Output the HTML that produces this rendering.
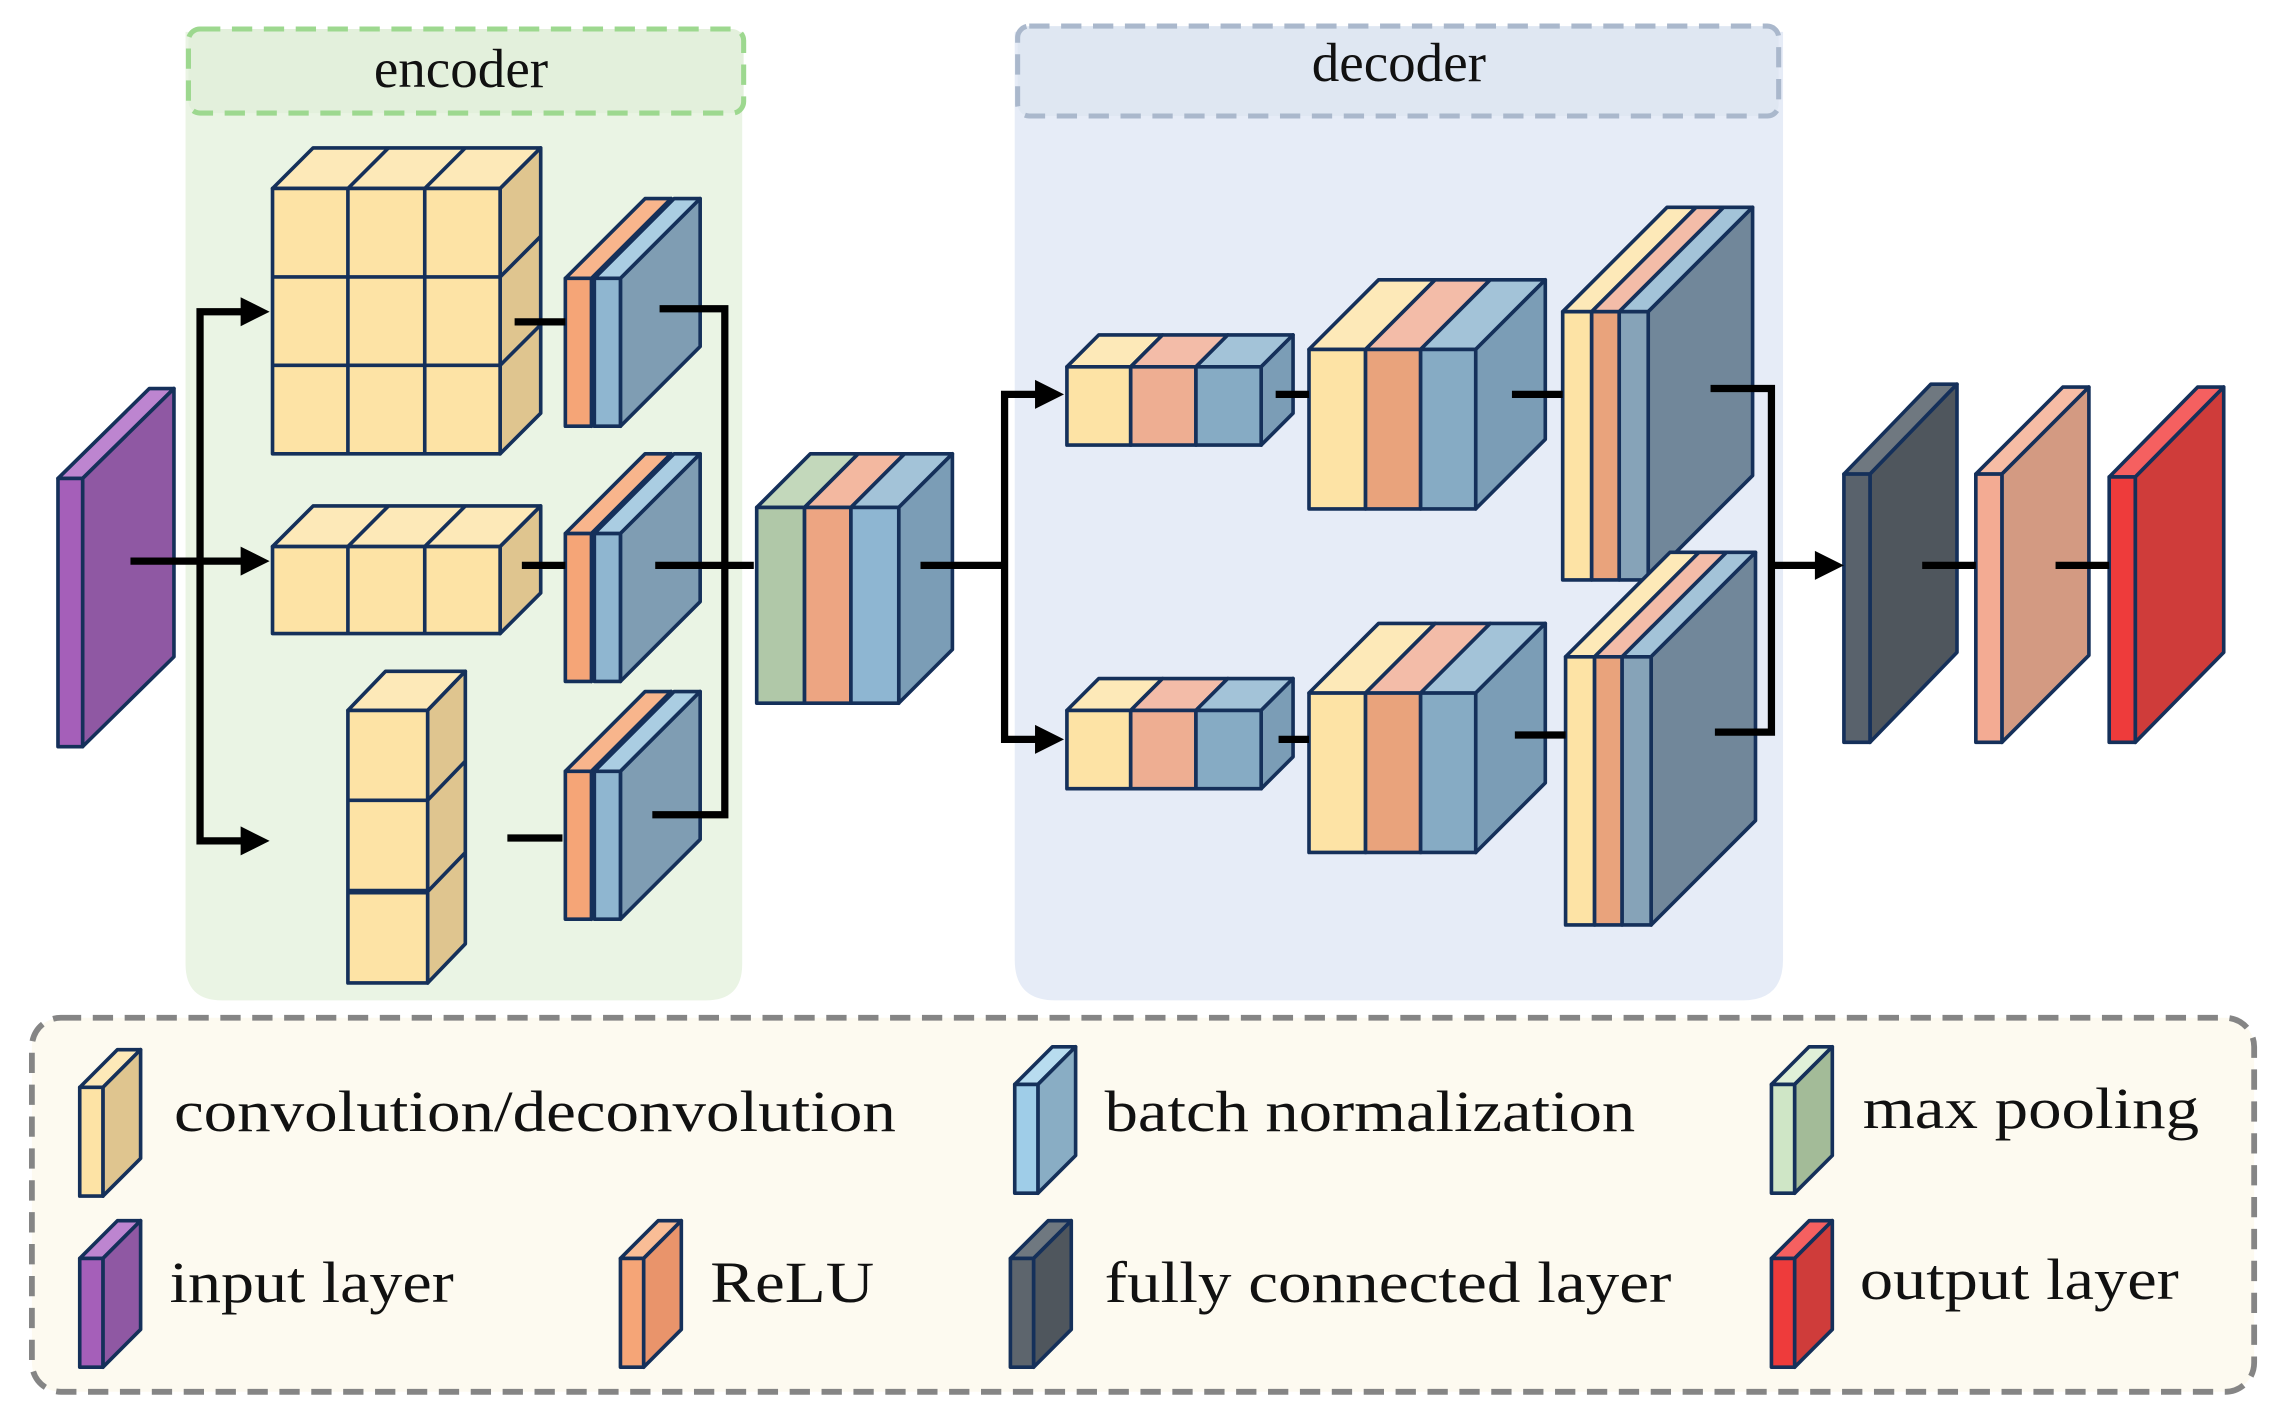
<!DOCTYPE html>
<html><head><meta charset="utf-8"><style>
html,body{margin:0;padding:0;background:#fff;}
svg{display:block;}
text{font-family:"Liberation Serif",serif;fill:#111;}
</style></head><body>
<svg width="2273" height="1415" viewBox="0 0 1568 976" preserveAspectRatio="none" xmlns="http://www.w3.org/2000/svg">
<g stroke="#15305a" stroke-width="2.5" stroke-linejoin="round">
<!-- region backgrounds -->
<path d="M128,22 H512 V665 Q512,690 487,690 H153 Q128,690 128,665 Z" fill="#eaf4e4" stroke="none"/>
<rect x="130" y="20" width="383" height="58" rx="8" fill="#e3f0dc" stroke="#9dd88f" stroke-width="3.5" stroke-dasharray="14 8"/>
<path d="M700,22 H1230 V662 Q1230,690 1202,690 H728 Q700,690 700,662 Z" fill="#e6ecf7" stroke="none"/>
<rect x="702" y="18" width="525" height="62" rx="8" fill="#dfe7f2" stroke="#aab8cc" stroke-width="3.5" stroke-dasharray="14 8"/>
<rect x="22" y="702" width="1533" height="258" rx="20" fill="#fdfaf0" stroke="#858585" stroke-width="4" stroke-dasharray="14 8"/>

<!-- input -->
<polygon points="40,330 103,268 120,268 57,330" fill="#bd85d0"/>
<polygon points="57,330 120,268 120,453 57,515" fill="#8f58a3"/>
<rect x="40" y="330" width="17" height="185" fill="#a55fb9"/>

<!-- conv grid 3x3 -->
<polygon points="188,130 216,102 373,102 345,130" fill="#fde9b8"/>
<line x1="240" y1="130" x2="268" y2="102"/><line x1="293" y1="130" x2="321" y2="102"/>
<polygon points="345,130 373,102 373,285 345,313" fill="#dfc58f"/>
<line x1="345" y1="191" x2="373" y2="163"/><line x1="345" y1="252" x2="373" y2="224"/>
<rect x="188" y="130" width="157" height="183" fill="#fde3a5"/>
<line x1="240" y1="130" x2="240" y2="313"/><line x1="293" y1="130" x2="293" y2="313"/>
<line x1="188" y1="191" x2="345" y2="191"/><line x1="188" y1="252" x2="345" y2="252"/>
<!-- conv row -->
<polygon points="188,377 216,349 373,349 345,377" fill="#fde9b8"/>
<line x1="240" y1="377" x2="268" y2="349"/><line x1="293" y1="377" x2="321" y2="349"/>
<polygon points="345,377 373,349 373,409 345,437" fill="#dfc58f"/>
<rect x="188" y="377" width="157" height="60" fill="#fde3a5"/>
<line x1="240" y1="377" x2="240" y2="437"/><line x1="293" y1="377" x2="293" y2="437"/>
<!-- conv column -->
<polygon points="240,490 266,463 321,463 295,490" fill="#fde9b8"/>
<polygon points="295,490 321,463 321,651 295,678" fill="#dfc58f"/>
<line x1="295" y1="552" x2="321" y2="525"/><line x1="295" y1="615" x2="321" y2="588"/>
<rect x="240" y="490" width="55" height="188" fill="#fde3a5"/>
<line x1="240" y1="552" x2="295" y2="552"/><line x1="240" y1="615" x2="295" y2="615" stroke-width="4"/>

<!-- encoder slabs -->
<g id="slab">
<polygon points="390,192 445,137 463,137 408,192" fill="#f8b58c"/>
<polygon points="408,192 463,137 463,239 408,294" fill="#e09a72"/>
<rect x="390" y="192" width="18" height="102" fill="#f5a577"/>
<polygon points="410,192 465,137 483,137 428,192" fill="#aacde2"/>
<polygon points="428,192 483,137 483,239 428,294" fill="#7f9db3"/>
<rect x="410" y="192" width="18" height="102" fill="#8fb6d0"/>
</g>
<g transform="translate(0,176)">
<polygon points="390,192 445,137 463,137 408,192" fill="#f8b58c"/>
<polygon points="408,192 463,137 463,239 408,294" fill="#e09a72"/>
<rect x="390" y="192" width="18" height="102" fill="#f5a577"/>
<polygon points="410,192 465,137 483,137 428,192" fill="#aacde2"/>
<polygon points="428,192 483,137 483,239 428,294" fill="#7f9db3"/>
<rect x="410" y="192" width="18" height="102" fill="#8fb6d0"/>
</g>
<g transform="translate(0,340)">
<polygon points="390,192 445,137 463,137 408,192" fill="#f8b58c"/>
<polygon points="408,192 463,137 463,239 408,294" fill="#e09a72"/>
<rect x="390" y="192" width="18" height="102" fill="#f5a577"/>
<polygon points="410,192 465,137 483,137 428,192" fill="#aacde2"/>
<polygon points="428,192 483,137 483,239 428,294" fill="#7f9db3"/>
<rect x="410" y="192" width="18" height="102" fill="#8fb6d0"/>
</g>

<!-- pool block -->
<polygon points="522,350 559,313 592,313 555,350" fill="#c3d8bb"/>
<polygon points="555,350 592,313 624,313 587,350" fill="#f3b8a0"/>
<polygon points="587,350 624,313 657,313 620,350" fill="#a3c3d8"/>
<polygon points="620,350 657,313 657,448 620,485" fill="#7b9db6"/>
<rect x="522" y="350" width="33" height="135" fill="#b0c8a8"/>
<rect x="555" y="350" width="32" height="135" fill="#eda582"/>
<rect x="587" y="350" width="33" height="135" fill="#8eb6d2"/>

<!-- decoder small -->
<g>
<polygon points="736,253 758,231 802,231 780,253" fill="#fde9b8"/>
<polygon points="780,253 802,231 847,231 825,253" fill="#f3bca8"/>
<polygon points="825,253 847,231 892,231 870,253" fill="#a3c3d8"/>
<polygon points="870,253 892,231 892,285 870,307" fill="#7b9db6"/>
<rect x="736" y="253" width="44" height="54" fill="#fde3a5"/>
<rect x="780" y="253" width="45" height="54" fill="#eeae92"/>
<rect x="825" y="253" width="45" height="54" fill="#86abc4"/>
</g>
<g transform="translate(0,237)">
<polygon points="736,253 758,231 802,231 780,253" fill="#fde9b8"/>
<polygon points="780,253 802,231 847,231 825,253" fill="#f3bca8"/>
<polygon points="825,253 847,231 892,231 870,253" fill="#a3c3d8"/>
<polygon points="870,253 892,231 892,285 870,307" fill="#7b9db6"/>
<rect x="736" y="253" width="44" height="54" fill="#fde3a5"/>
<rect x="780" y="253" width="45" height="54" fill="#eeae92"/>
<rect x="825" y="253" width="45" height="54" fill="#86abc4"/>
</g>
<!-- decoder medium -->
<g>
<polygon points="903,241 951,193 990,193 942,241" fill="#fde9b8"/>
<polygon points="942,241 990,193 1028,193 980,241" fill="#f3bca8"/>
<polygon points="980,241 1028,193 1066,193 1018,241" fill="#a3c3d8"/>
<polygon points="1018,241 1066,193 1066,303 1018,351" fill="#7b9db6"/>
<rect x="903" y="241" width="39" height="110" fill="#fde3a5"/>
<rect x="942" y="241" width="38" height="110" fill="#e9a37c"/>
<rect x="980" y="241" width="38" height="110" fill="#86abc4"/>
</g>
<g transform="translate(0,237)">
<polygon points="903,241 951,193 990,193 942,241" fill="#fde9b8"/>
<polygon points="942,241 990,193 1028,193 980,241" fill="#f3bca8"/>
<polygon points="980,241 1028,193 1066,193 1018,241" fill="#a3c3d8"/>
<polygon points="1018,241 1066,193 1066,303 1018,351" fill="#7b9db6"/>
<rect x="903" y="241" width="39" height="110" fill="#fde3a5"/>
<rect x="942" y="241" width="38" height="110" fill="#e9a37c"/>
<rect x="980" y="241" width="38" height="110" fill="#86abc4"/>
</g>
<!-- decoder large -->
<g>
<polygon points="1078,215 1150,143 1170,143 1098,215" fill="#fde9b8"/>
<polygon points="1098,215 1170,143 1189,143 1117,215" fill="#f3bca8"/>
<polygon points="1117,215 1189,143 1209,143 1137,215" fill="#a3c3d8"/>
<polygon points="1137,215 1209,143 1209,328 1137,400" fill="#71879a"/>
<rect x="1078" y="215" width="20" height="185" fill="#fde3a5"/>
<rect x="1098" y="215" width="19" height="185" fill="#e9a37c"/>
<rect x="1117" y="215" width="20" height="185" fill="#86a3b8"/>
</g>
<g transform="translate(2,238)">
<polygon points="1078,215 1150,143 1170,143 1098,215" fill="#fde9b8"/>
<polygon points="1098,215 1170,143 1189,143 1117,215" fill="#f3bca8"/>
<polygon points="1117,215 1189,143 1209,143 1137,215" fill="#a3c3d8"/>
<polygon points="1137,215 1209,143 1209,328 1137,400" fill="#71879a"/>
<rect x="1078" y="215" width="20" height="185" fill="#fde3a5"/>
<rect x="1098" y="215" width="19" height="185" fill="#e9a37c"/>
<rect x="1117" y="215" width="20" height="185" fill="#86a3b8"/>
</g>

<!-- FC, salmon, red -->
<polygon points="1272,327 1332,265 1350,265 1290,327" fill="#6f7880"/>
<polygon points="1290,327 1350,265 1350,450 1290,512" fill="#4f565d"/>
<rect x="1272" y="327" width="18" height="185" fill="#59626c"/>
<polygon points="1363,327 1423,267 1441,267 1381,327" fill="#f6bca5"/>
<polygon points="1381,327 1441,267 1441,452 1381,512" fill="#d39a82"/>
<rect x="1363" y="327" width="18" height="185" fill="#f3ab93"/>
<polygon points="1455,329 1516,267 1534,267 1473,329" fill="#f56060"/>
<polygon points="1473,329 1534,267 1534,450 1473,512" fill="#cf3c3a"/>
<rect x="1455" y="329" width="18" height="183" fill="#ee3b3b"/>

<!-- legend icons -->
<g transform="translate(55,750)"><polygon points="0,0 26,-26 42,-26 16,0" fill="#fde9b8"/><polygon points="16,0 42,-26 42,49 16,75" fill="#dfc58f"/><rect x="0" y="0" width="16" height="75" fill="#fde3a5"/></g>
<g transform="translate(700,748)"><polygon points="0,0 26,-26 42,-26 16,0" fill="#b8dcef"/><polygon points="16,0 42,-26 42,49 16,75" fill="#89adc4"/><rect x="0" y="0" width="16" height="75" fill="#9fcde8"/></g>
<g transform="translate(1222,748)"><polygon points="0,0 26,-26 42,-26 16,0" fill="#dff0d8"/><polygon points="16,0 42,-26 42,49 16,75" fill="#a3bb98"/><rect x="0" y="0" width="16" height="75" fill="#cfe6c6"/></g>
<g transform="translate(55,868)"><polygon points="0,0 26,-26 42,-26 16,0" fill="#bd85d0"/><polygon points="16,0 42,-26 42,49 16,75" fill="#8f58a3"/><rect x="0" y="0" width="16" height="75" fill="#a55fb9"/></g>
<g transform="translate(428,868)"><polygon points="0,0 26,-26 42,-26 16,0" fill="#f9bd96"/><polygon points="16,0 42,-26 42,49 16,75" fill="#e9946b"/><rect x="0" y="0" width="16" height="75" fill="#f5a577"/></g>
<g transform="translate(697,868)"><polygon points="0,0 26,-26 42,-26 16,0" fill="#6f7880"/><polygon points="16,0 42,-26 42,49 16,75" fill="#4f565d"/><rect x="0" y="0" width="16" height="75" fill="#5d656d"/></g>
<g transform="translate(1222,868)"><polygon points="0,0 26,-26 42,-26 16,0" fill="#f56060"/><polygon points="16,0 42,-26 42,49 16,75" fill="#cf3c3a"/><rect x="0" y="0" width="16" height="75" fill="#ee3b3b"/></g>
</g>

<!-- connectors -->
<g stroke="#000" stroke-width="5" fill="none" stroke-linejoin="miter">
<line x1="90" y1="387" x2="172" y2="387"/>
<polyline points="172,215 138,215 138,580 172,580"/>
<line x1="355" y1="222" x2="390" y2="222"/>
<line x1="360" y1="390" x2="390" y2="390"/>
<line x1="350" y1="578" x2="388" y2="578"/>
<polyline points="455,213 500,213 500,562 450,562"/>
<line x1="452" y1="390" x2="520" y2="390"/>
<line x1="635" y1="390" x2="693" y2="390"/>
<polyline points="720,272 693,272 693,510 720,510"/>
<line x1="880" y1="272" x2="903" y2="272"/>
<line x1="882" y1="510" x2="903" y2="510"/>
<line x1="1043" y1="272" x2="1078" y2="272"/>
<line x1="1045" y1="507" x2="1080" y2="507"/>
<polyline points="1180,268 1222,268 1222,505 1183,505"/>
<line x1="1222" y1="390" x2="1258" y2="390"/>
<line x1="1326" y1="390" x2="1363" y2="390"/>
<line x1="1418" y1="390" x2="1455" y2="390"/>
</g>
<g fill="#000">
<polygon points="166,205 186,215 166,225"/>
<polygon points="166,377 186,387 166,397"/>
<polygon points="166,570 186,580 166,590"/>
<polygon points="714,262 734,272 714,282"/>
<polygon points="714,500 734,510 714,520"/>
<polygon points="1252,380 1272,390 1252,400"/>
</g>

<!-- labels -->
<text x="318" y="60" font-size="38" text-anchor="middle">encoder</text>
<text x="965" y="56" font-size="38" text-anchor="middle">decoder</text>
<g font-size="40">
<text x="120" y="780" textLength="498" lengthAdjust="spacingAndGlyphs">convolution/deconvolution</text>
<text x="762" y="780" textLength="366" lengthAdjust="spacingAndGlyphs">batch normalization</text>
<text x="1285" y="778" textLength="232" lengthAdjust="spacingAndGlyphs">max pooling</text>
<text x="117" y="898" textLength="196" lengthAdjust="spacingAndGlyphs">input layer</text>
<text x="490" y="898" textLength="113" lengthAdjust="spacingAndGlyphs">ReLU</text>
<text x="762" y="898" textLength="391" lengthAdjust="spacingAndGlyphs">fully connected layer</text>
<text x="1283" y="896" textLength="220" lengthAdjust="spacingAndGlyphs">output layer</text>
</g>
</svg>
</body></html>
